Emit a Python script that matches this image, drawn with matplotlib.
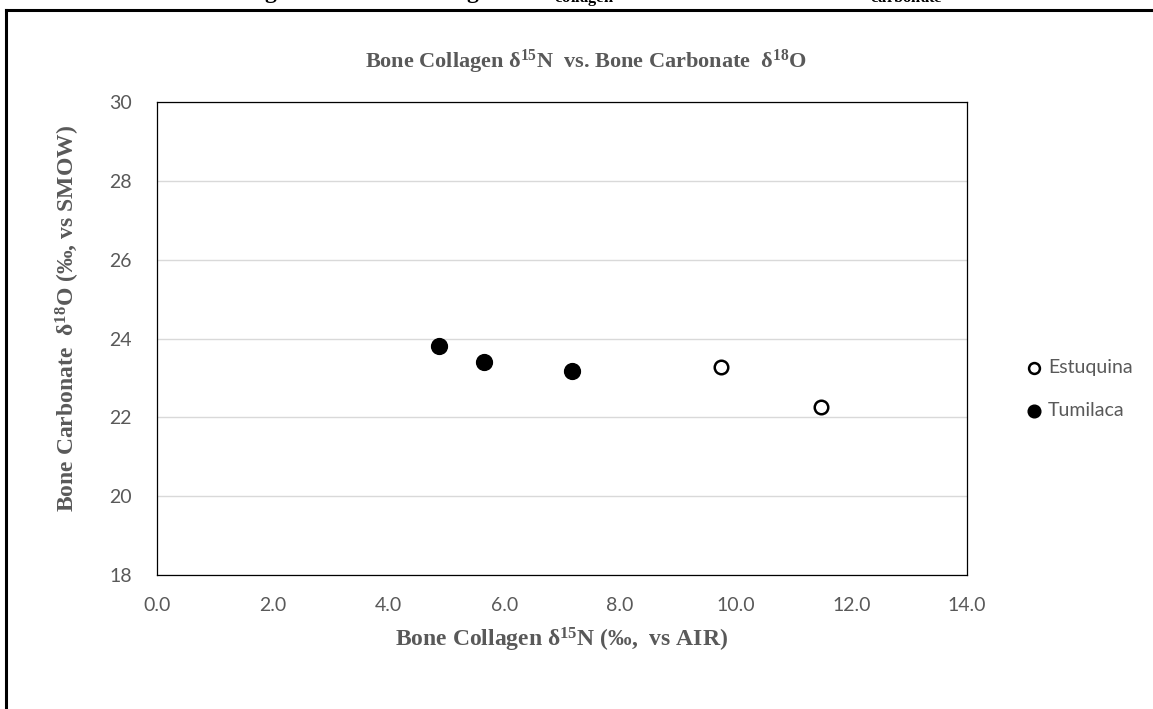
import matplotlib
matplotlib.use("Agg")
import matplotlib.pyplot as plt
from matplotlib.lines import Line2D

# data
estuquina_n = [9.74, 11.48]
estuquina_o = [23.28, 22.25]
tumilaca_n = [4.87, 5.66, 7.17]
tumilaca_o = [23.81, 23.41, 23.17]

x_ticks = [0, 2, 4, 6, 8, 10, 12, 14]
y_ticks = [18, 20, 22, 24, 26, 28, 30]

plt.rcParams['mathtext.default'] = 'regular'
gray = '#595959'
serif = 'Liberation Serif'

fig = plt.figure(figsize=(11.53, 7.09), dpi=100)
W, H = 1153, 709

# outer frame (page border), partly cut off
fig.add_artist(Line2D([6 / W, 6 / W], [0, 1 - 10 / H], color='black', lw=2.2,
                      transform=fig.transFigure))
fig.add_artist(Line2D([6 / W, 1], [1 - 10 / H, 1 - 10 / H], color='black', lw=2.2,
                      transform=fig.transFigure))

# caption above the frame, cut off by the top edge as in the source
fig.text(0.515, 1 + 1 / H,
         r'Figure 5b: Bone Collagen $\delta^{15}$N$_{collagen}$ vs. Bone Carbonate $\delta^{18}$O$_{carbonate}$',
         family=serif, weight='bold', fontsize=17, ha='center', va='baseline', color='black')

ax = fig.add_axes([157 / W, 1 - 575 / H, (967 - 157) / W, (575 - 102) / H])

ax.scatter(estuquina_n, estuquina_o, s=95, facecolors='white', edgecolors='black',
           linewidths=1.8, zorder=3, label='Estuquina')
ax.scatter(tumilaca_n, tumilaca_o, s=130, facecolors='black', edgecolors='black',
           linewidths=1, zorder=3, label='Tumilaca')

ax.set_xlim(0, 14)
ax.set_ylim(18, 30)
ax.set_xticks(x_ticks)
ax.set_yticks(y_ticks)
ax.set_xticklabels([f'{v:.1f}' for v in x_ticks])
ax.set_yticklabels([str(v) for v in y_ticks])
ax.tick_params(length=0, labelsize=14, labelcolor=gray)
ax.tick_params(axis='x', pad=16)
ax.tick_params(axis='y', pad=18)
for lab in ax.get_xticklabels() + ax.get_yticklabels():
    lab.set_family('Lato')

ax.yaxis.grid(True, color='#d9d9d9', lw=1)
ax.set_axisbelow(True)
for sp in ax.spines.values():
    sp.set_color('black')
    sp.set_linewidth(0.9)

ax.set_xlabel(r'Bone Collagen $\delta^{15}$N (‰,  vs AIR)', family=serif, weight='bold',
              fontsize=17, color=gray)
ax.xaxis.set_label_coords(0.5, -(626 - 575) / 473, transform=ax.transAxes)
ax.xaxis.label.set_va('top')
ax.set_ylabel(r'Bone Carbonate  $\delta^{18}$O (‰, vs SMOW)', family=serif, weight='bold',
              fontsize=17, color=gray)
ax.yaxis.set_label_coords((68 - 157) / 810, (575 - 319) / 473, transform=ax.transAxes)
ax.yaxis.label.set_va('center')
fig.text(586 / W, 1 - 62 / H, r'Bone Collagen $\delta^{15}$N  vs. Bone Carbonate  $\delta^{18}$O',
         family=serif, weight='bold', fontsize=16, color=gray, ha='center', va='center')

leg = ax.legend(loc='center left', bbox_to_anchor=(1.052, (575 - 389) / 473), frameon=False,
                handlelength=0.8, handletextpad=0.3, labelspacing=1.3, markerscale=0.8,
                prop={'family': 'Lato', 'size': 14})
for t in leg.get_texts():
    t.set_color(gray)

fig.savefig('out.png', dpi=100)
